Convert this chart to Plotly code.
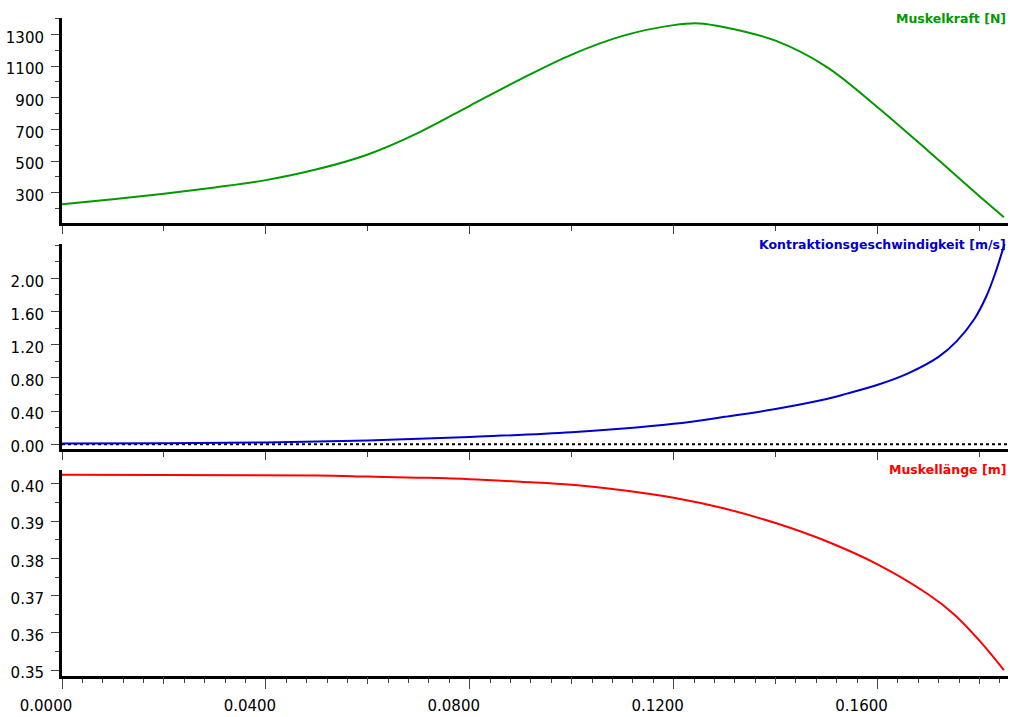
import plotly.graph_objects as go

# ---------------- data ----------------
force_t = [0.0, 0.01, 0.02, 0.03, 0.04, 0.05, 0.06, 0.07, 0.08, 0.09, 0.10, 0.11,
           0.12, 0.125, 0.13, 0.14, 0.15, 0.16, 0.17, 0.18, 0.1848]
force_v = [228, 260, 294, 334, 380, 448, 542, 680, 849, 1017, 1172, 1290,
           1358, 1369, 1345, 1260, 1095, 840, 562, 278, 146]

vel_t = [0.0, 0.02, 0.04, 0.06, 0.08, 0.10, 0.12, 0.13, 0.14, 0.15, 0.154, 0.1602,
         0.166, 0.1719, 0.1755, 0.179, 0.1814, 0.1832, 0.1844, 0.1852]
vel_v = [0.008, 0.012, 0.022, 0.045, 0.088, 0.143, 0.246, 0.33, 0.425, 0.545, 0.61, 0.72,
         0.855, 1.05, 1.24, 1.51, 1.79, 2.08, 2.31, 2.47]

len_t = [0.0, 0.05, 0.06, 0.07, 0.08, 0.09, 0.10, 0.11, 0.12, 0.13, 0.14, 0.15,
         0.16, 0.17, 0.175, 0.18, 0.1848]
len_v = [0.40246, 0.4023, 0.4020, 0.4017, 0.4013, 0.4006, 0.3998, 0.3983, 0.3963, 0.3934,
         0.3895, 0.3846, 0.3784, 0.3703, 0.3650, 0.3579, 0.3500]

x_range = [0.0, 0.1856]
titles = ["Muskelkraft [N]", "Kontraktionsgeschwindigkeit [m/s]", "Muskellänge [m]"]
colors = ["#009900", "#0000CC", "#FF0000"]

force_ticks = [300, 500, 700, 900, 1100, 1300]
vel_ticks = [0.0, 0.4, 0.8, 1.2, 1.6, 2.0]
len_ticks = [0.35, 0.36, 0.37, 0.38, 0.39, 0.40]
x_ticks = [0.0, 0.04, 0.08, 0.12, 0.16]
x_mid_ticks = [0.02, 0.06, 0.10, 0.14, 0.18]

# ---------------- figure ----------------
fig = go.Figure()
fig.add_trace(go.Scatter(x=force_t, y=force_v, mode="lines",
                         line=dict(color=colors[0], width=2, shape="spline", smoothing=1.0),
                         xaxis="x", yaxis="y", showlegend=False))
fig.add_trace(go.Scatter(x=x_range, y=[0, 0], mode="lines", line=dict(color="black", width=2, dash="dot"),
                         xaxis="x2", yaxis="y2", showlegend=False))
fig.add_trace(go.Scatter(x=vel_t, y=vel_v, mode="lines",
                         line=dict(color=colors[1], width=2, shape="spline", smoothing=1.0),
                         xaxis="x2", yaxis="y2", showlegend=False))
fig.add_trace(go.Scatter(x=len_t, y=len_v, mode="lines",
                         line=dict(color=colors[2], width=2, shape="spline", smoothing=1.0),
                         xaxis="x3", yaxis="y3", showlegend=False))
# invisible trace so the overlay tick axis is drawn
fig.add_trace(go.Scatter(x=[x_range[0]], y=[len_v[0]], mode="markers", marker=dict(opacity=0),
                         xaxis="x4", yaxis="y3", showlegend=False, hoverinfo="skip"))

font_tick = dict(family="DejaVu Sans", size=15, color="#000000")
tickcol = "#444444"

common_x = dict(range=x_range, showgrid=False, zeroline=False, showline=True, linecolor="black",
                linewidth=3, ticks="outside", tickcolor=tickcol, tickwidth=1)
common_y = dict(showgrid=False, zeroline=False, showline=True, linecolor="black", linewidth=3,
                ticks="outside", tickcolor=tickcol, tickwidth=1, ticklen=8, tickfont=font_tick,
                ticklabelstandoff=4, ticklabelshift=3)

dom1 = [0.6886, 1.0]
dom2 = [0.3443, 0.6561]
dom3 = [0.0, 0.3133]

fig.update_layout(
    width=1010, height=717,
    margin=dict(l=62, r=2, t=18, b=31),
    paper_bgcolor="white", plot_bgcolor="white",
    xaxis=dict(**common_x, anchor="y", tickvals=x_ticks, ticklen=8, showticklabels=False,
               minor=dict(tickvals=x_mid_ticks, ticklen=5, tickcolor=tickcol, ticks="outside")),
    xaxis2=dict(**common_x, anchor="y2", matches="x", tickvals=x_ticks, ticklen=8, showticklabels=False,
                minor=dict(tickvals=x_mid_ticks, ticklen=5, tickcolor=tickcol, ticks="outside")),
    xaxis3=dict(**common_x, anchor="y3", matches="x", tickvals=x_ticks, ticklen=10,
                tickformat=".4f", tickfont=font_tick, ticklabelshift=-16, ticklabelstandoff=4,
                minor=dict(dtick=0.004, ticklen=4, tickcolor=tickcol, ticks="outside")),
    xaxis4=dict(range=x_range, overlaying="x3", anchor="y3", side="bottom", showgrid=False, zeroline=False,
                showline=False, ticks="outside", tickvals=x_mid_ticks, ticklen=7, tickcolor=tickcol,
                tickwidth=1, showticklabels=False),
    yaxis=dict(**common_y, domain=dom1, anchor="x", range=[110, 1403], tickvals=force_ticks,
               minor=dict(dtick=100, ticklen=4, tickcolor=tickcol, ticks="outside")),
    yaxis2=dict(**common_y, domain=dom2, anchor="x2", range=[-0.063, 2.41], tickvals=vel_ticks,
                tickformat=".2f", minor=dict(dtick=0.2, ticklen=4, tickcolor=tickcol, ticks="outside")),
    yaxis3=dict(**common_y, domain=dom3, anchor="x3", range=[0.3484, 0.4038], tickvals=len_ticks,
                tickformat=".2f", minor=dict(dtick=0.005, ticklen=4, tickcolor=tickcol, ticks="outside")),
)

for title, col, dom in zip(titles, colors, [dom1, dom2, dom3]):
    fig.add_annotation(text="<b>" + title + "</b>", xref="paper", yref="paper", x=1.0, y=dom[1],
                       xanchor="right", yanchor="middle", showarrow=False,
                       font=dict(family="DejaVu Sans", size=12.5, color=col))

fig.write_html("out.html")
